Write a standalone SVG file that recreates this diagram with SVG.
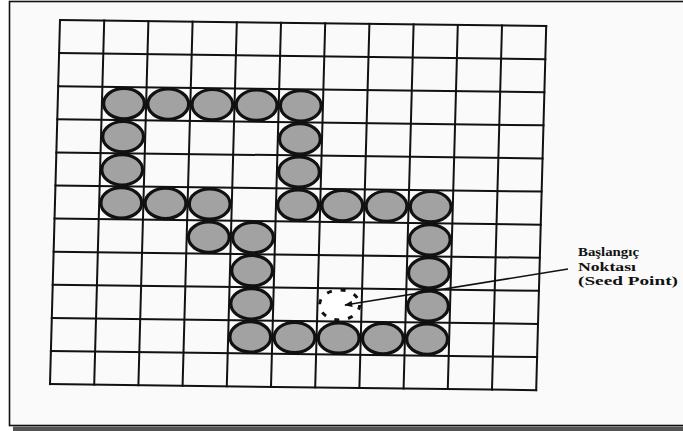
<svg xmlns="http://www.w3.org/2000/svg" xmlns:xlink="http://www.w3.org/1999/xlink" width="683" height="431" viewBox="0 0 683 431">
<style>
.g line{stroke:#111;stroke-width:2;vector-effect:non-scaling-stroke;stroke-linecap:square}
.dot{fill:#a2a2a2;stroke:#111;stroke-width:3.2}
.lbl{font-family:"Liberation Serif","Times New Roman",serif;font-weight:bold;font-size:13px;fill:#111}
</style>
<defs>
<ellipse id="c" cx="0" cy="0" rx="20.4" ry="15.2"/>
<marker id="ah" viewBox="0 0 10 10" refX="9" refY="5" markerWidth="6" markerHeight="5" orient="auto" markerUnits="strokeWidth">
<path d="M0,1 L10,5 L0,9 z" fill="#111"/>
</marker>
</defs>
<rect width="683" height="431" fill="#ffffff"/>
<g id="frame">
<rect x="9.5" y="1.5" width="690" height="424" fill="#fafafa" stroke="#111" stroke-width="1.6"/>
<rect x="13" y="426.5" width="670" height="4.5" fill="#555"/>
</g>
<g id="grid" class="g" transform="matrix(44.2 0.55 -0.91 33.1 60 20)">
<line x1="0" y1="0" x2="0" y2="11"/><line x1="1" y1="0" x2="1" y2="11"/><line x1="2" y1="0" x2="2" y2="11"/><line x1="3" y1="0" x2="3" y2="11"/><line x1="4" y1="0" x2="4" y2="11"/><line x1="5" y1="0" x2="5" y2="11"/><line x1="6" y1="0" x2="6" y2="11"/><line x1="7" y1="0" x2="7" y2="11"/><line x1="8" y1="0" x2="8" y2="11"/><line x1="9" y1="0" x2="9" y2="11"/><line x1="10" y1="0" x2="10" y2="11"/><line x1="11" y1="0" x2="11" y2="11"/>
<line x1="0" y1="0" x2="11" y2="0"/><line x1="0" y1="1" x2="11" y2="1"/><line x1="0" y1="2" x2="11" y2="2"/><line x1="0" y1="3" x2="11" y2="3"/><line x1="0" y1="4" x2="11" y2="4"/><line x1="0" y1="5" x2="11" y2="5"/><line x1="0" y1="6" x2="11" y2="6"/><line x1="0" y1="7" x2="11" y2="7"/><line x1="0" y1="8" x2="11" y2="8"/><line x1="0" y1="9" x2="11" y2="9"/><line x1="0" y1="10" x2="11" y2="10"/><line x1="0" y1="11" x2="11" y2="11"/>
</g>
<g id="boundary">
<use class="dot" xlink:href="#c" x="124.0" y="103.6"/><use class="dot" xlink:href="#c" x="168.2" y="104.1"/><use class="dot" xlink:href="#c" x="212.4" y="104.7"/><use class="dot" xlink:href="#c" x="256.6" y="105.2"/><use class="dot" xlink:href="#c" x="300.8" y="105.8"/>
<use class="dot" xlink:href="#c" x="123.1" y="136.7"/><use class="dot" xlink:href="#c" x="299.9" y="138.9"/>
<use class="dot" xlink:href="#c" x="122.2" y="169.8"/><use class="dot" xlink:href="#c" x="299.0" y="172.0"/>
<use class="dot" xlink:href="#c" x="121.3" y="202.9"/><use class="dot" xlink:href="#c" x="165.5" y="203.4"/><use class="dot" xlink:href="#c" x="209.7" y="204.0"/><use class="dot" xlink:href="#c" x="298.1" y="205.1"/><use class="dot" xlink:href="#c" x="342.3" y="205.6"/><use class="dot" xlink:href="#c" x="386.5" y="206.2"/><use class="dot" xlink:href="#c" x="430.7" y="206.7"/>
<use class="dot" xlink:href="#c" x="208.8" y="237.1"/><use class="dot" xlink:href="#c" x="253.0" y="237.6"/><use class="dot" xlink:href="#c" x="429.8" y="239.8"/>
<use class="dot" xlink:href="#c" x="252.1" y="270.7"/><use class="dot" xlink:href="#c" x="428.9" y="272.9"/>
<use class="dot" xlink:href="#c" x="251.2" y="303.8"/><use class="dot" xlink:href="#c" x="428.0" y="306.0"/>
<use class="dot" xlink:href="#c" x="250.3" y="336.9"/><use class="dot" xlink:href="#c" x="294.5" y="337.5"/><use class="dot" xlink:href="#c" x="338.7" y="338.0"/><use class="dot" xlink:href="#c" x="382.9" y="338.6"/><use class="dot" xlink:href="#c" x="427.1" y="339.1"/>
</g>
<g id="seed">
<ellipse cx="339.6" cy="304.9" rx="20" ry="15" fill="#ffffff" stroke="#111" stroke-width="3" stroke-dasharray="5 8.9"/>
</g>
<g id="connectors">
<line x1="568" y1="269" x2="345" y2="305" stroke="#111" stroke-width="1.6" marker-end="url(#ah)"/>
</g>
<g id="label" class="lbl">
<text x="578" y="255.5" textLength="61" lengthAdjust="spacingAndGlyphs">Başlangıç</text>
<text x="578" y="270.5" textLength="58" lengthAdjust="spacingAndGlyphs">Noktası</text>
<text x="578" y="285" textLength="100" lengthAdjust="spacingAndGlyphs">(Seed Point)</text>
</g>
</svg>
